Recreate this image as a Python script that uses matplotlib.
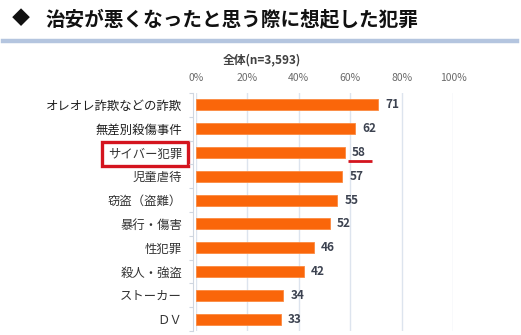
import matplotlib.pyplot as plt
from matplotlib.lines import Line2D

plt.rcParams['font.family'] = ['Noto Sans CJK JP', 'DejaVu Sans']

# data
categories = ["オレオレ詐欺などの詐欺", "無差別殺傷事件", "サイバー犯罪", "児童虐待",
              "窃盗（盗難）", "暴行・傷害", "性犯罪", "殺人・強盗", "ストーカー", "ＤＶ"]
values = [71, 62, 58, 57, 55, 52, 46, 42, 34, 33]
xticks = [0, 20, 40, 60, 80, 100]
highlight = "サイバー犯罪"

W, H = 521, 335
fig = plt.figure(figsize=(W / 100, H / 100), dpi=100)
fig.patch.set_facecolor('white')

# header
fig.text(12 / W, 1 - 19 / H, "◆", fontsize=13, fontweight='bold', color='#111111', va='center')
fig.text(45 / W, 1 - 19 / H, "治安が悪くなったと思う際に想起した犯罪", fontsize=14.1,
         fontweight='bold', color='#111111', va='center')
fig.add_artist(Line2D([3 / W, 517 / W], [1 - 41 / H, 1 - 41 / H], color='#b4c5df', lw=3.2))

fig.text(262 / W, 1 - 60 / H, "全体(n=3,593)", fontsize=8.5, fontweight='bold',
         color='#404040', ha='center', va='center')

ax = fig.add_axes([196 / W, 1 - 331 / H, (453 - 196) / W, (331 - 93) / H])

# spines first: moving a spine resets the tick labels
for side in ['top', 'right', 'bottom']:
    ax.spines[side].set_visible(False)
ax.spines['left'].set_color('#cfd6e0')
ax.spines['left'].set_position(('outward', 2))

ypos = list(range(len(categories)))
ax.barh(ypos, values, height=0.47, color='#fa660a', edgecolor='#fb8a40', linewidth=0.6, zorder=3)
ax.set_xlim(0, 100)
ax.set_ylim(len(categories) - 0.5, -0.5)

ax.xaxis.tick_top()
ax.set_xticks(xticks)
ax.set_xticklabels([f"{t}%" for t in xticks], fontsize=7.5, color='#6a6a6a')
ax.tick_params(axis='x', length=0, pad=7)
ax.grid(axis='x', color='#dde4ee', lw=1, zorder=0)

ax.set_yticks(ypos)
ax.set_yticklabels(categories, fontsize=8.9, color='#333333')
ax.tick_params(axis='y', length=0, pad=8)
ax.set_yticks([i - 0.5 for i in range(len(categories) + 1)], minor=True)
ax.tick_params(axis='y', which='minor', length=3, color='#cfd6e0', width=0.8)

for lbl in ax.get_yticklabels()[:2]:
    lbl.set_color('#1e1e1e')

for y, v, c in zip(ypos, values, categories):
    ax.annotate(str(v), (v, y), xytext=(5, 0), textcoords='offset points',
                va='center', ha='left', fontsize=8.5, fontweight='bold', color='#3c4250')
    if c == highlight:
        ax.plot([v + 1.3, v + 10.5], [y + 0.34, y + 0.34], color='#d4141e', lw=2,
                solid_capstyle='butt', clip_on=False, zorder=4)

for lbl in ax.get_yticklabels():
    if lbl.get_text() == highlight:
        lbl.set_bbox(dict(facecolor='white', edgecolor='#d4141e', linewidth=2.4,
                          boxstyle='square,pad=0.45'))

fig.savefig('out.png', dpi=100, facecolor='white')
